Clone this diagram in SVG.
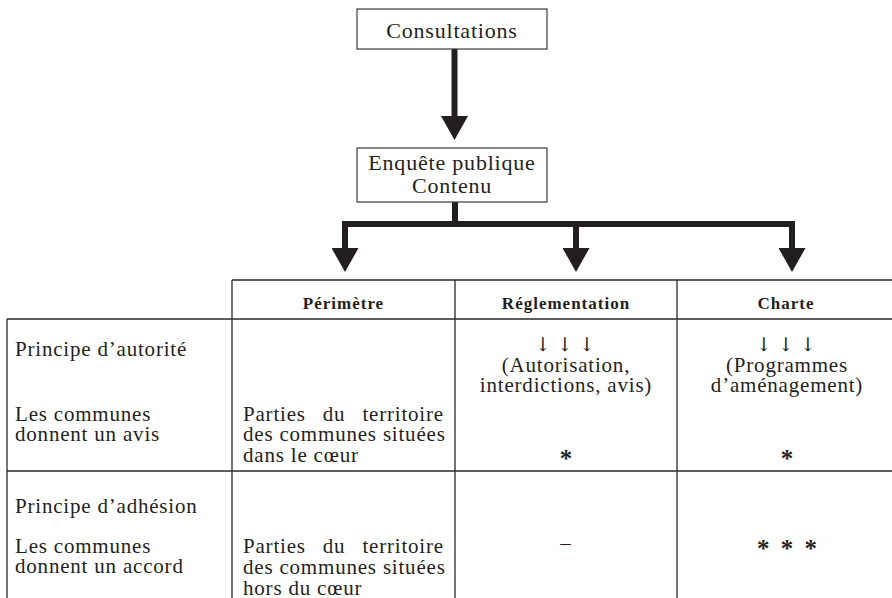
<svg xmlns="http://www.w3.org/2000/svg" width="892" height="598" viewBox="0 0 892 598">
  <style>
    .t { font-family: "Liberation Serif", "Times New Roman", serif; font-size: 21px; letter-spacing: 0.8px; fill: #231f20; }
    .bx { font-family: "Liberation Serif", "Times New Roman", serif; font-size: 22px; letter-spacing: 0.8px; fill: #231f20; text-anchor: middle; }
    .h { font-family: "Liberation Serif", "Times New Roman", serif; font-size: 17px; font-weight: bold; letter-spacing: 1px; fill: #231f20; text-anchor: middle; }
    .m { text-anchor: middle; }
    .arr { font-family: "DejaVu Serif", "DejaVu Sans", serif; font-size: 19px; fill: #231f20; text-anchor: middle; }
    .ast { font-family: "Liberation Serif", "Times New Roman", serif; font-size: 25px; font-weight: bold; fill: #231f20; text-anchor: middle; }
    .box { fill: #fff; stroke: #3a3a3a; stroke-width: 1.2; }
    .grid { stroke: #2a2a2a; stroke-width: 1.3; fill: none; }
    .conn { stroke: #231f20; stroke-width: 6; fill: none; stroke-linejoin: miter; }
  </style>
  <defs>
    <marker id="head" viewBox="0 0 24 27" refX="0" refY="13.5" markerWidth="24" markerHeight="27" markerUnits="userSpaceOnUse" orient="auto">
      <path d="M0,0 L24,13.5 L0,27 Z" fill="#231f20"/>
    </marker>
  </defs>

  <rect width="892" height="598" fill="#fff"/>

  <g id="connectors">
    <path class="conn" d="M454.5,49 V116" marker-end="url(#head)"/>
    <path class="conn" d="M455,202 V224"/>
    <path class="conn" d="M455,224 H345 V248" marker-end="url(#head)"/>
    <path class="conn" d="M576,224 V248" marker-end="url(#head)"/>
    <path class="conn" d="M455,224 H792 V248" marker-end="url(#head)"/>
  </g>

  <g id="consultations">
    <rect class="box" x="357" y="9" width="190" height="40"/>
    <text class="bx" x="452" y="38">Consultations</text>
  </g>

  <g id="enquete">
    <rect class="box" x="357" y="148" width="190" height="54"/>
    <text class="bx" x="452" y="170">Enquête publique</text>
    <text class="bx" x="452" y="193">Contenu</text>
  </g>

  <g id="table-grid">
    <path class="grid" d="M232,280 H892 M7,319 H892 M7,471 H892 M7,319 V598 M232,280 V598 M455,280 V598 M677,280 V598"/>
  </g>

  <g id="perimetre">
    <text class="h" x="343.5" y="309">Périmètre</text>
  </g>
  <g id="reglementation">
    <text class="h" x="566" y="309">Réglementation</text>
  </g>
  <g id="charte">
    <text class="h" x="786" y="309">Charte</text>
  </g>

  <g id="row-autorite">
    <text class="t" x="15" y="356">Principe d’autorité</text>
    <text class="t" x="15" y="421">Les communes</text>
    <text class="t" x="15" y="441">donnent un avis</text>
    <text class="t" x="243" y="421" word-spacing="11">Parties du territoire</text>
    <text class="t" x="243" y="441">des communes situées</text>
    <text class="t" x="243" y="462">dans le cœur</text>
    <text class="arr" x="565" y="351">↓ ↓ ↓</text>
    <text class="t m" x="566" y="372">(Autorisation,</text>
    <text class="t m" x="566" y="392">interdictions, avis)</text>
    <text class="ast" x="566" y="467">*</text>
    <text class="arr" x="786" y="351">↓ ↓ ↓</text>
    <text class="t m" x="787" y="372">(Programmes</text>
    <text class="t m" x="787" y="392">d’aménagement)</text>
    <text class="ast" x="787" y="467">*</text>
  </g>

  <g id="row-adhesion">
    <text class="t" x="15" y="513">Principe d’adhésion</text>
    <text class="t" x="15" y="553">Les communes</text>
    <text class="t" x="15" y="573">donnent un accord</text>
    <text class="t" x="243" y="553" word-spacing="11">Parties du territoire</text>
    <text class="t" x="243" y="574">des communes situées</text>
    <text class="t" x="243" y="595">hors du cœur</text>
    <text class="t m" x="566" y="550">–</text>
    <text class="ast" x="787" y="557" word-spacing="5">* * *</text>
  </g>
</svg>
